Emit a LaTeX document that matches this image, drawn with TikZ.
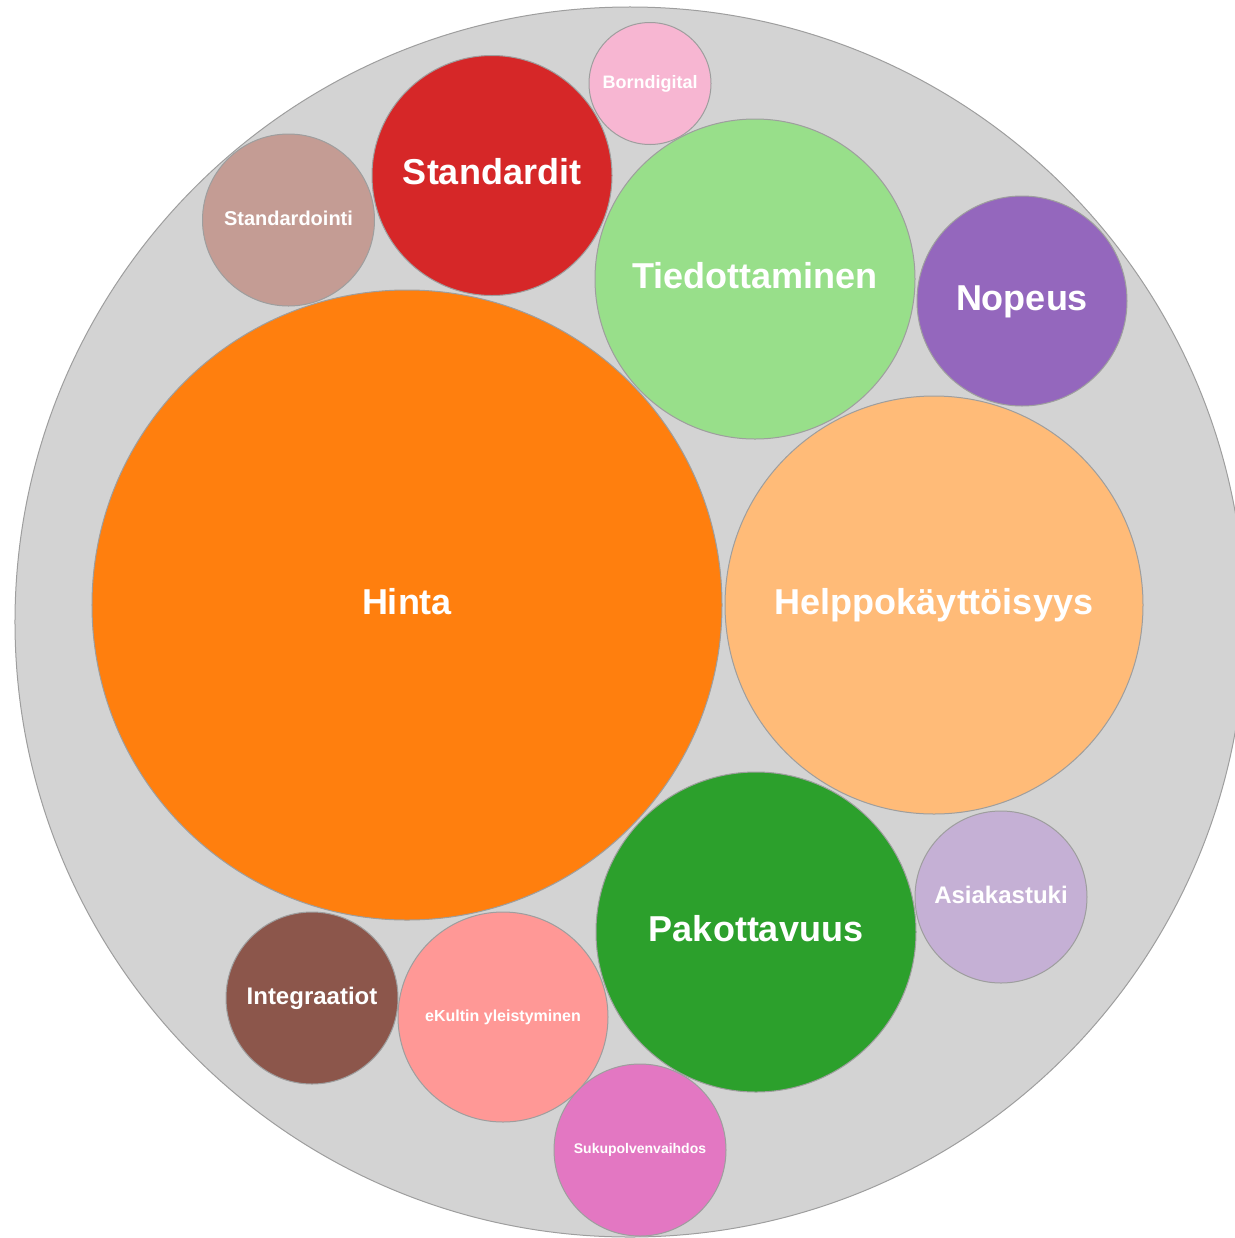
\documentclass[tikz,border=0pt]{standalone}
\usepackage{fontspec}
\setmainfont{Liberation Sans}
\definecolor{bggray}{HTML}{D3D3D3}
\definecolor{edgegray}{HTML}{9E9E9E}
\definecolor{cOrange}{HTML}{FF7F0E}
\definecolor{cOrangeL}{HTML}{FFBB78}
\definecolor{cGreen}{HTML}{2CA02C}
\definecolor{cGreenL}{HTML}{98DF8A}
\definecolor{cRed}{HTML}{D62728}
\definecolor{cRedL}{HTML}{FF9896}
\definecolor{cPurple}{HTML}{9467BD}
\definecolor{cPurpleL}{HTML}{C5B0D5}
\definecolor{cBrown}{HTML}{8C564B}
\definecolor{cBrownL}{HTML}{C49C94}
\definecolor{cPink}{HTML}{E377C2}
\definecolor{cPinkL}{HTML}{F7B6D2}
\newcommand\fsz[1]{\fontsize{#1bp}{#1bp}\selectfont\bfseries}
\begin{document}
\begin{tikzpicture}[x=1bp,y=-1bp,
  bub/.style={circle, draw=edgegray, line width=1bp, inner sep=0pt, outer sep=0pt},
  lbl/.style={text=white, anchor=base, inner sep=0pt}]
\useasboundingbox (0,0) rectangle (1235,1238);
\clip (0,0) rectangle (1235,1238);
\node[bub, fill=bggray, minimum size=1230bp] (outer) at (630,622) {};
% bubbles
\node[bub, fill=cOrange,  minimum size=630bp] (hinta)  at (407,605) {};
\node[bub, fill=cOrangeL, minimum size=418bp] (helppo) at (934,605) {};
\node[bub, fill=cGreenL,  minimum size=320bp] (tiedo)  at (755,279) {};
\node[bub, fill=cGreen,   minimum size=320bp] (pakot)  at (756,932) {};
\node[bub, fill=cRed,     minimum size=240bp] (stdit)  at (492,175.5) {};
\node[bub, fill=cPurple,  minimum size=210bp] (nopeus) at (1022,301) {};
\node[bub, fill=cBrownL,  minimum size=172bp] (stdoin) at (288.5,220) {};
\node[bub, fill=cPinkL,   minimum size=122bp] (born)   at (650,83.5) {};
\node[bub, fill=cPurpleL, minimum size=172bp] (asiak)  at (1001,897) {};
\node[bub, fill=cBrown,   minimum size=172bp] (integr) at (312,998) {};
\node[bub, fill=cRedL,    minimum size=210bp] (ekult)  at (503,1017) {};
\node[bub, fill=cPink,    minimum size=172bp] (sukup)  at (640,1150) {};
% labels
\node[lbl, font=\fsz{36}] (hintaT)  at ([yshift=-9bp]hinta.center)  {Hinta};
\node[lbl, font=\fsz{36}] (helppoT) at ([yshift=-9bp]helppo.center) {Helppokäyttöisyys};
\node[lbl, font=\fsz{36}] (tiedoT)  at ([yshift=-9bp]tiedo.center)  {Tiedottaminen};
\node[lbl, font=\fsz{36}] (pakotT)  at ([yshift=-9bp]pakot.center)  {Pakottavuus};
\node[lbl, font=\fsz{36}] (stditT)  at ([yshift=-9bp]stdit.center)  {Standardit};
\node[lbl, font=\fsz{36}] (nopeusT) at ([yshift=-9bp]nopeus.center) {Nopeus};
\node[lbl, font=\fsz{24}] (asiakT)  at ([yshift=-6bp]asiak.center)  {Asiakastuki};
\node[lbl, font=\fsz{24}] (integrT) at ([yshift=-6bp]integr.center) {Integraatiot};
\node[lbl, font=\fsz{20}] (stdoinT) at ([yshift=-5bp]stdoin.center) {Standardointi};
\node[lbl, font=\fsz{18}] (bornT)   at ([yshift=-4.5bp]born.center) {Borndigital};
\node[lbl, font=\fsz{16}] (ekultT)  at ([yshift=-4bp]ekult.center)  {eKultin yleistyminen};
\node[lbl, font=\fsz{14}] (sukupT)  at ([yshift=-3.5bp]sukup.center) {Sukupolvenvaihdos};
\end{tikzpicture}
\end{document}
